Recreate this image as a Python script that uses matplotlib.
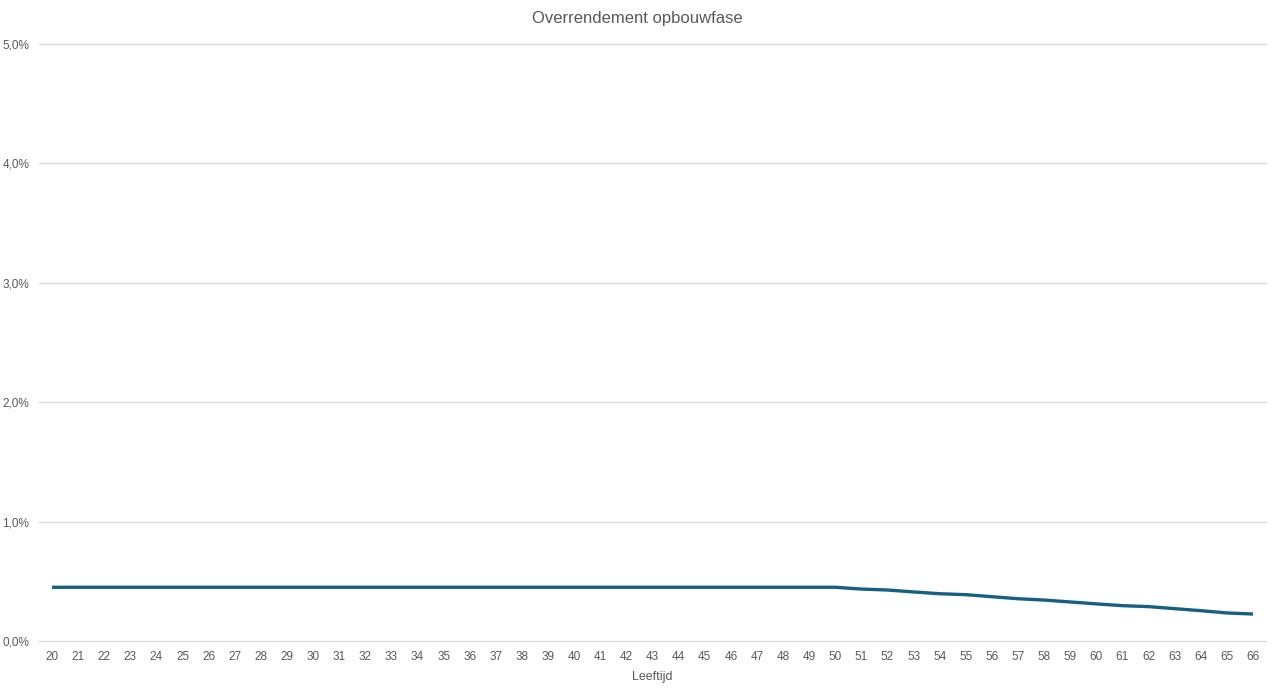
import numpy as np
import matplotlib
matplotlib.use("Agg")
import matplotlib.pyplot as plt
from matplotlib.ticker import FuncFormatter

# leeftijden en overrendement (in %)
ages = list(range(20, 67))
flat = [0.45] * 31  # 20 t/m 50
tail = [0.435, 0.427, 0.411, 0.396, 0.388, 0.371, 0.354, 0.343,
        0.327, 0.311, 0.296, 0.288, 0.271, 0.254, 0.235, 0.226]  # 51 t/m 66
overrendement = flat + tail

title = "Overrendement opbouwfase"
xlabel = "Leeftijd"

plt.rcParams['font.family'] = ['Liberation Sans', 'DejaVu Sans']
txt = '#595959'

fig = plt.figure(figsize=(12.74, 6.93), dpi=100)
ax = fig.add_axes([39 / 1274, 1 - 641 / 693, (1266 - 39) / 1274, (641 - 44) / 693])

ax.plot(ages, overrendement, color='#156082', lw=2.4, solid_capstyle='butt')

ax.set_xlim(19.5, 66.5)
ax.set_ylim(0, 5)
ax.set_yticks(np.arange(0, 5.01, 1))
ax.yaxis.set_major_formatter(FuncFormatter(lambda v, p: f"{v:.1f}%".replace('.', ',')))
ax.set_xticks(ages)
ax.grid(axis='y', color='#d9d9d9', lw=0.9)
for gl in ax.get_ygridlines():
    gl.set_clip_on(False)
ax.set_axisbelow(True)
for s in ax.spines.values():
    s.set_visible(False)
ax.tick_params(length=0, colors=txt, labelsize=8.5)
ax.tick_params(axis='x', pad=7)
ax.tick_params(axis='y', pad=7)

ax.set_xlabel(xlabel, color=txt, fontsize=9, labelpad=6)
fig.text(0.5, 1 - 18 / 693, title, ha='center', va='center', color=txt, fontsize=12)

fig.savefig("out.png", dpi=100)
